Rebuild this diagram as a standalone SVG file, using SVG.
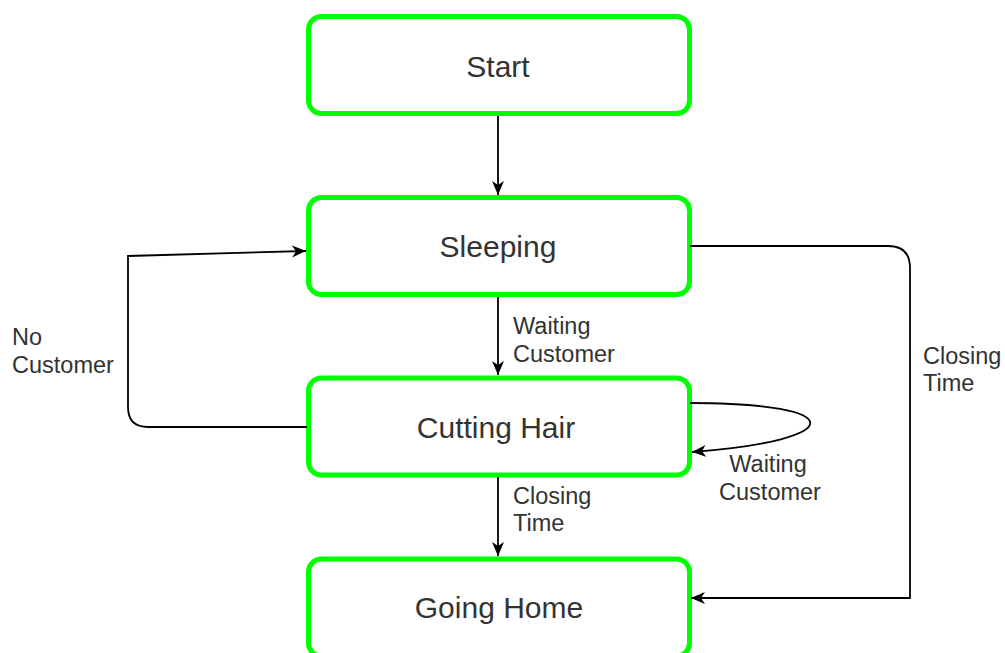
<svg xmlns="http://www.w3.org/2000/svg" width="1005" height="653" viewBox="0 0 1005 653">
<style>
.box{fill:#fff;stroke:#00ff00;stroke-width:5}
.bt{font-family:"Liberation Sans",Arial,sans-serif;font-size:30px;fill:#333;text-anchor:middle}
.lbl{font-family:"Liberation Sans",Arial,sans-serif;font-size:23.5px;fill:#333}
.edge{fill:none;stroke:#000;stroke-width:1.8}
</style>
<defs>
<marker id="arr" markerUnits="userSpaceOnUse" markerWidth="16" markerHeight="14" refX="14" refY="7" orient="auto">
<path d="M0,1 L14,7 L0,13 L4,7 Z" fill="#000"/>
</marker>
</defs>
<g id="nodes">
<g id="start"><rect class="box" x="308.5" y="16.5" width="381" height="97" rx="13"/><text class="bt" x="498" y="77">Start</text></g>
<g id="sleeping"><rect class="box" x="308.5" y="197.5" width="381" height="97" rx="13"/><text class="bt" x="498" y="257">Sleeping</text></g>
<g id="cutting"><rect class="box" x="308.5" y="378" width="381" height="97" rx="13"/><text class="bt" x="496" y="438">Cutting Hair</text></g>
<g id="going"><rect class="box" x="308.5" y="559" width="381" height="97" rx="13"/><text class="bt" x="499" y="618">Going Home</text></g>
</g>
<g id="connectors">
<path class="edge" d="M498,116 L498,195" marker-end="url(#arr)"/>
<path class="edge" d="M498,297 L498,375" marker-end="url(#arr)"/>
<path class="edge" d="M498,477 L498,556" marker-end="url(#arr)"/>
<path class="edge" d="M307,427 L148,427 Q128,427 128,407 L128,256 L306,251" marker-end="url(#arr)"/>
<path class="edge" d="M690,246 L888,246 Q910,246 910,268 L910,598 L691,598" marker-end="url(#arr)"/>
<path class="edge" d="M690,403 C850,403 850,440 692,452" marker-end="url(#arr)"/>
<text class="lbl" x="513" y="334">Waiting</text>
<text class="lbl" x="513" y="362">Customer</text>
<text class="lbl" x="513" y="504">Closing</text>
<text class="lbl" x="513" y="531">Time</text>
<text class="lbl" x="12" y="345">No</text>
<text class="lbl" x="12" y="373">Customer</text>
<text class="lbl" x="923" y="364">Closing</text>
<text class="lbl" x="923" y="391">Time</text>
<text class="lbl" x="768" y="472" text-anchor="middle">Waiting</text>
<text class="lbl" x="770" y="500" text-anchor="middle">Customer</text>
</g>
</svg>
